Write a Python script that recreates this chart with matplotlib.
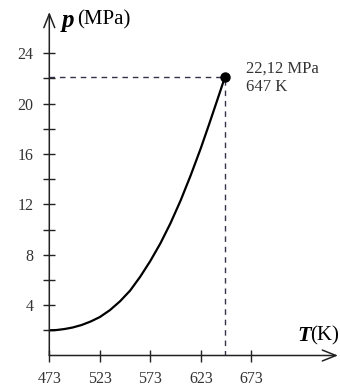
import matplotlib
matplotlib.use("Agg")
import matplotlib.pyplot as plt

# saturation curve
temp_k = [473, 480, 488, 496, 505, 514, 523, 533, 543, 553, 563, 573, 583, 593, 603, 613, 623, 631, 639, 647]
pres_mpa = [2.0, 2.02, 2.1, 2.22, 2.42, 2.7, 3.05, 3.6, 4.3, 5.15, 6.25, 7.5, 8.9, 10.5, 12.3, 14.3, 16.45, 18.3, 20.2, 22.12]

crit_t = 647
crit_p = 22.12
crit_labels = ["22,12 MPa", "647 K"]

x_ticks = [473, 523, 573, 623, 673]
y_major = [4, 8, 12, 16, 20, 24]
y_minor = [2, 6, 10, 14, 18, 22]

plt.rcParams["font.family"] = ["Liberation Serif", "DejaVu Serif"]

W, H = 340, 386
fig = plt.figure(figsize=(W / 100, H / 100), dpi=100)
fig.set_facecolor("white")

# axes box in pixels: origin (49.3, 355.5), top-right (338, 12)
x0, y0, x1, y1 = 49.3, 355.5, 338, 12
ax = fig.add_axes([x0 / W, 1 - y0 / H, (x1 - x0) / W, (y0 - y1) / H])
px_per_k = 1.01
px_per_mpa = 12.6
ax.set_xlim(473, 473 + (x1 - x0) / px_per_k)
ax.set_ylim(0, (y0 - y1) / px_per_mpa)

for s in ax.spines.values():
    s.set_visible(False)

axis_col = "#222222"
arrow = dict(arrowstyle="->,head_length=0.7,head_width=0.28", lw=1.1, color=axis_col,
             shrinkA=0, shrinkB=0, mutation_scale=14)
ax.annotate("", xy=(1, 0), xytext=(0, 0), xycoords="axes fraction", arrowprops=arrow)
ax.annotate("", xy=(0, 1), xytext=(0, 0), xycoords="axes fraction", arrowprops=arrow)

ax.set_xticks(x_ticks)
ax.set_xticklabels([str(t) for t in x_ticks])
ax.set_yticks(y_major)
ax.set_yticklabels([str(v) for v in y_major])
ax.set_yticks(y_minor, minor=True)
ax.tick_params(axis="both", which="both", direction="inout", length=9, width=1.0,
               color=axis_col, labelsize=11.5, labelcolor="#333333")
ax.tick_params(axis="y", pad=7)
ax.tick_params(axis="x", pad=6.5)

# dashed guides to the critical point
dash_col = "#33334a"
ax.plot([473, crit_t], [crit_p, crit_p], linestyle=(0, (4, 3.5)), color=dash_col, lw=1.0)
ax.plot([crit_t, crit_t], [0, crit_p], linestyle=(0, (4, 3.5)), color=dash_col, lw=1.0)

# curve and critical point
ax.plot(temp_k, pres_mpa, color="black", lw=1.6, solid_capstyle="round", solid_joinstyle="round")
ax.plot([crit_t], [crit_p], "o", color="black", markersize=6.5)

ax.text(crit_t + 21, crit_p + 0.65, crit_labels[0], fontsize=12, color="#333333", va="center")
ax.text(crit_t + 21, crit_p - 0.85, crit_labels[1], fontsize=12, color="#333333", va="center")

# axis titles: bold italic symbol followed by the unit
fig.text(62 / W, 1 - 20 / H, "p", fontsize=18, fontweight="bold", style="italic", va="center")
fig.text(77 / W, 1 - 20 / H, "(MPa)", fontsize=15, va="center")
fig.text(297 / W, 1 - 336 / H, "T", fontsize=16, fontweight="bold", style="italic", va="center")
fig.text(310 / W, 1 - 336 / H, "(K)", fontsize=15, va="center")

fig.savefig("out.png", dpi=100, facecolor="white")
